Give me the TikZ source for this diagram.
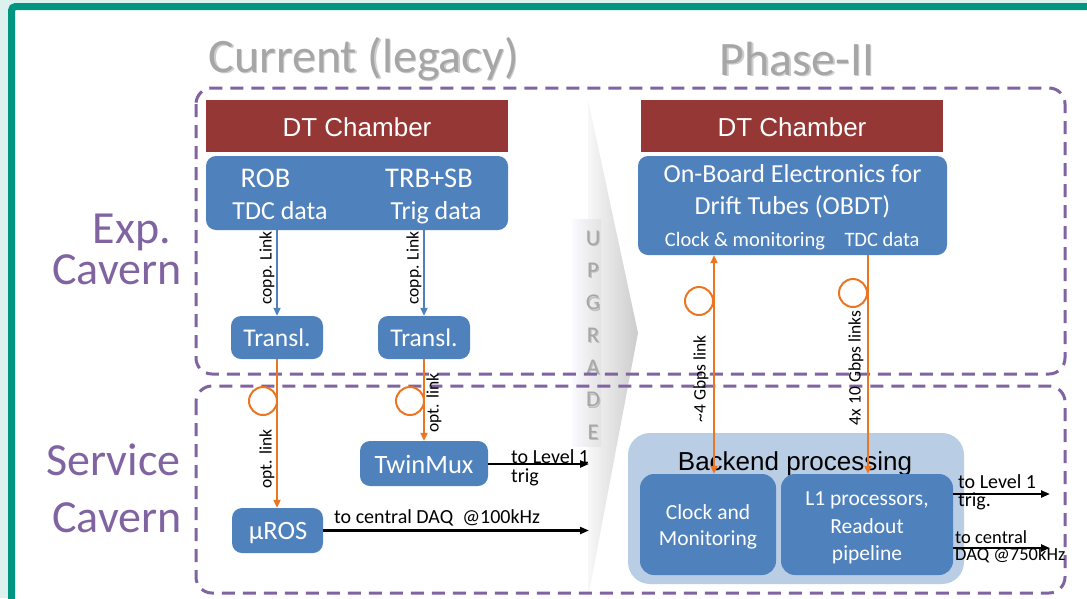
\documentclass[tikz,border=0pt]{standalone}
\usepackage{fontspec}
\setmainfont{Carlito}
\newfontfamily\arialfont{Liberation Sans}
\usetikzlibrary{arrows.meta}

\definecolor{mint}{HTML}{DDF2EE}
\definecolor{frameteal}{HTML}{009682}
\definecolor{zonepurple}{HTML}{8064A2}
\definecolor{chamber}{HTML}{953735}
\definecolor{boxblue}{HTML}{4F81BD}
\definecolor{backblue}{HTML}{B9CDE5}
\definecolor{fibreorange}{HTML}{EB7520}
\definecolor{titlegray}{HTML}{A6A6A6}

\newcommand\fsz[1]{\fontsize{#1pt}{#1pt}\selectfont}

\tikzset{
  chamberbox/.style={fill=chamber, inner sep=0, minimum width=302, minimum height=52},
  bluebox/.style={fill=boxblue, rounded corners=10, inner sep=0},
  txt/.style={inner sep=0, anchor=base},
  wtxt/.style={txt, text=white},
  ltxt/.style={inner sep=0, anchor=base west},
  zone/.style={draw=zonepurple, line width=3, dash pattern=on 13 off 8, rounded corners=16},
  fibre/.style={draw=fibreorange, line width=2},
  loop/.style={circle, draw=fibreorange, line width=2, minimum size=28, inner sep=0},
  copper/.style={draw=boxblue, line width=2, -{Triangle[length=8,width=7]}},
  outlink/.style={draw=black, line width=2.2, -{Triangle[length=9,width=7]}},
  rlabel/.style={rotate=90, inner sep=0, text height=0.7em, text depth=0.2em, font=\fsz{17.5}},
  side/.style={txt, text=zonepurple, font=\fsz{46}},
  heading/.style={txt, text=titlegray, font=\fsz{48}},
  headshadow/.style={txt, text=black!55, opacity=0.35, font=\fsz{48}},
}

\begin{document}
\begin{tikzpicture}[x=1pt,y=-1pt]
\useasboundingbox (0,0) rectangle (1087,598);

% page background and slide frame
\fill[mint] (0,0) rectangle (1087,598);
\draw[frameteal, line width=7, fill=white, rounded corners=4] (11.5,6.5) rectangle (1110,620);

% headings
\node[headshadow] (curS) at (365,73.5) {Current (legacy)};
\node[heading] (cur) at (363.5,72) {Current (legacy)};
\node[headshadow] (phS) at (798.5,76.5) {Phase-II};
\node[heading] (ph) at (797,75) {Phase-II};

% upgrade arrow
\shade[left color=white!94!gray, right color=gray!40] (588,100) -- (638,333) -- (588,598) -- cycle;
\shade[left color=blue!2!white, right color=gray!22] (572,219) rectangle (601,446);
\node[text=black!50, opacity=0.4, inner sep=0, align=center,
      font=\fontsize{22.5pt}{32.3pt}\selectfont] (upS) at (594.2,336.2)
      {U\\P\\G\\R\\A\\D\\E};
\node[text=titlegray, inner sep=0, align=center,
      font=\fontsize{22.5pt}{32.3pt}\selectfont] (up) at (593,335)
      {U\\P\\G\\R\\A\\D\\E};

% cavern zones
\draw[zone] (196,88) rectangle (1065,374);
\draw[zone] (196,386) rectangle (1065,593);
\node[side] (exp) at (132,243) {Exp.};
\node[side] (cav1) at (117,284) {Cavern};
\node[side] (serv) at (113.5,475) {Service};
\node[side] (cav2) at (117,532) {Cavern};

% ---------------- legacy chain ----------------
\node[chamberbox] (dtL) at (357,126) {};
\node[wtxt, font=\arialfont\fsz{26}] (dtLT) at (357,136) {DT Chamber};
\node[bluebox, minimum width=302, minimum height=74] (rob) at (357,193) {};
\node[wtxt, font=\fsz{28.5}] (robT) at (265.5,187) {ROB};
\node[wtxt, font=\fsz{28.5}] (trbT) at (429,187) {TRB+SB};
\node[wtxt, font=\fsz{26}] (tdcT) at (280,219) {TDC data};
\node[wtxt, font=\fsz{26}] (trgT) at (436,219) {Trig data};

\node[bluebox, minimum width=92, minimum height=43] (tr1) at (277,337.5) {};
\node[bluebox, minimum width=92, minimum height=43] (tr2) at (424,337.5) {};
\node[wtxt, font=\fsz{25.5}] (tr1T) at (277,346) {Transl.};
\node[wtxt, font=\fsz{25.5}] (tr2T) at (424,346) {Transl.};
\node[bluebox, minimum width=128, minimum height=45] (tmux) at (424,463.5) {};
\node[wtxt, font=\fsz{26.5}] (tmuxT) at (424,473) {TwinMux};
\node[bluebox, minimum width=91, minimum height=45] (muros) at (277.5,530.5) {};
\node[wtxt, font=\fsz{26.5}] (murosT) at (278,539) {µROS};

\draw[copper] (rob.south -| tr1) -- (tr1.north);
\draw[copper] (rob.south -| tr2) -- (tr2.north);
\node[rlabel] (cl1) at (269,268) {copp. Link};
\node[rlabel] (cl2) at (416,268) {copp. Link};

\node[loop] (lp1) at (263,401) {};
\node[loop] (lp2) at (410,401) {};
\draw[fibre, -{Triangle[length=8,width=7]}] (tr1.south) -- (tr1.south |- muros.north);
\draw[fibre, -{Triangle[length=8,width=7]}] (tr2.south) -- (tmux.north);
\node[rlabel] (ol1) at (269,459) {opt. link};
\node[rlabel] (ol2) at (436,403) {opt. link};

\coordinate (trigL) at (589,464);
\coordinate (daqL) at (589,530.5);
\draw[outlink] (trigL -| tmux.east) -- (trigL);
\draw[outlink] (muros.east) -- (daqL);
\node[ltxt, font=\fsz{20}] (trigLT1) at (511,463) {to Level 1};
\node[ltxt, font=\fsz{20}] (trigLT2) at (511,482) {trig};
\node[ltxt, font=\fsz{20}] (daqLT) at (334,523) {to central DAQ\ \ @100kHz};

% ---------------- Phase-II chain ----------------
\node[chamberbox] (dtR) at (792,126) {};
\node[wtxt, font=\arialfont\fsz{26}] (dtRT) at (792,136) {DT Chamber};
\node[bluebox, minimum width=309, minimum height=99] (obdt) at (792.5,205.5) {};
\node[wtxt, font=\fsz{26}] (obdtT1) at (792.5,182) {On-Board Electronics for};
\node[wtxt, font=\fsz{26}] (obdtT2) at (792.5,214) {Drift Tubes (OBDT)};
\node[wtxt, font=\fsz{20.5}] (clkT) at (745,246) {Clock \& monitoring};
\node[wtxt, font=\fsz{20.5}] (tdcR) at (882,246) {TDC data};

\node[fill=backblue, rounded corners=22, inner sep=0,
      minimum width=336, minimum height=151] (back) at (796,508.5) {};
\node[txt, font=\arialfont\fsz{26}] (backT) at (795,470) {Backend processing};
\node[bluebox, rounded corners=14, minimum width=136, minimum height=101] (clk) at (708,524.5) {};
\node[bluebox, rounded corners=14, minimum width=172, minimum height=101] (l1) at (867,524.5) {};
\node[wtxt, font=\fsz{21.5}] (clkBT1) at (708,519) {Clock and};
\node[wtxt, font=\fsz{21.5}] (clkBT2) at (708,545) {Monitoring};
\node[wtxt, font=\fsz{21.5}] (l1T1) at (867,505) {L1 processors,};
\node[wtxt, font=\fsz{21.5}] (l1T2) at (867,533) {Readout};
\node[wtxt, font=\fsz{21.5}] (l1T3) at (867,560) {pipeline};

\node[loop] (lp3) at (699,301) {};
\node[loop] (lp4) at (853,293) {};
\draw[fibre, {Triangle[length=8,width=7]}-{Triangle[length=8,width=7]}]
  (lp3.east |- obdt.south) -- (lp3.east |- clk.north);
\draw[fibre, -{Triangle[length=8,width=7]}]
  (lp4.east |- obdt.south) -- (lp4.east |- l1.north);
\node[rlabel] (gl1) at (703,379) {\textasciitilde 4 Gbps link};
\node[rlabel] (gl2) at (858,368) {4x 10 Gbps links};

\coordinate (trigR) at (1050,494);
\coordinate (daqR) at (1050,548);
\draw[outlink] (trigR -| l1.east) -- (trigR);
\draw[outlink] (daqR -| l1.east) -- (daqR);
\node[ltxt, font=\fsz{20}] (trigRT1) at (958,488) {to Level 1};
\node[ltxt, font=\fsz{20}] (trigRT2) at (958,506) {trig.};
\node[ltxt, font=\fsz{18.5}] (daqRT1) at (955,543) {to central};
\node[ltxt, font=\fsz{18.5}] (daqRT2) at (955,560) {DAQ @750kHz};
\end{tikzpicture}
\end{document}
